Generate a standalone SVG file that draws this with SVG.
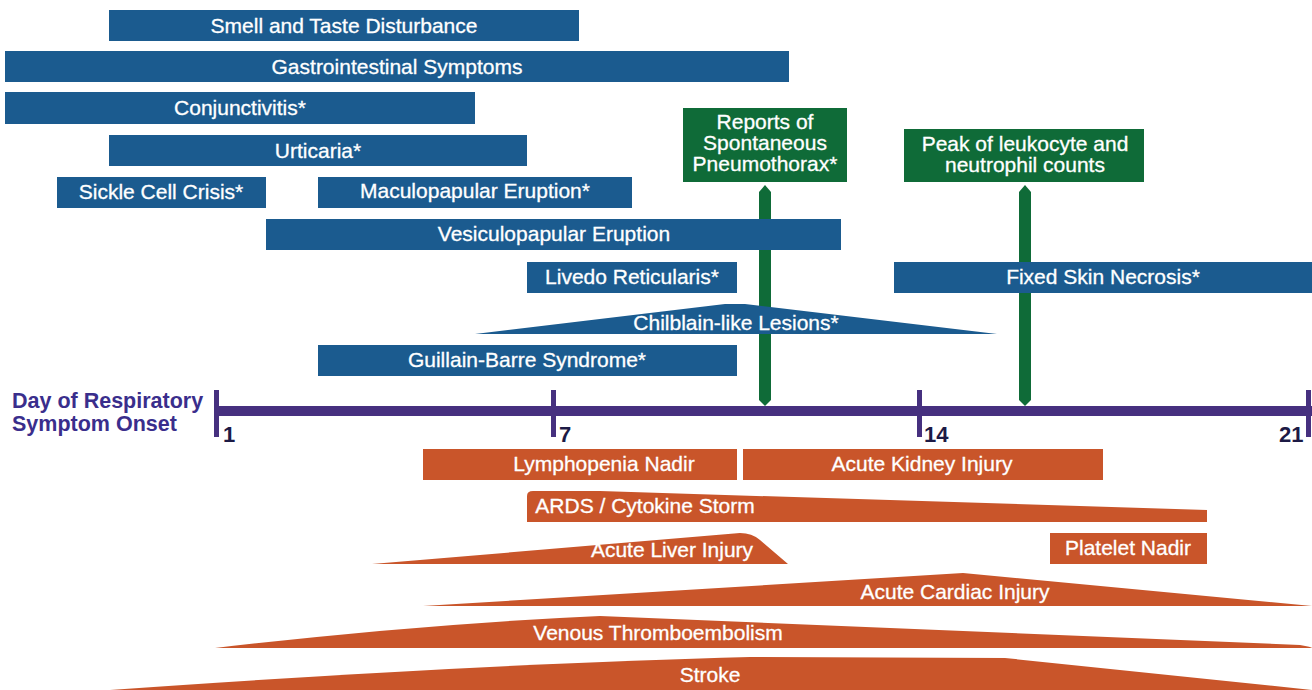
<svg xmlns="http://www.w3.org/2000/svg" width="1312" height="690" viewBox="0 0 1312 690">
<style>
.b{fill:#1b5b8f}
.o{fill:#c9552a}
.g{fill:#0f6b38}
.ax{fill:#46307f}
text{font-family:"Liberation Sans",Arial,sans-serif;font-size:21px;fill:#fff;stroke:#fff;stroke-width:0.3;text-anchor:middle}
.num{font-weight:bold;fill:#1c1a45;stroke:none;font-size:22px;text-anchor:start}
.ttl{font-weight:bold;fill:#3a2e8c;stroke:none;font-size:21.5px;text-anchor:start}
</style>
<rect width="1312" height="690" fill="#fff"/>
<g id="axis">
<rect class="ax" x="215" y="406" width="1097" height="10"/>
<rect class="ax" x="214" y="390" width="5" height="47"/>
<rect class="ax" x="551" y="390" width="5" height="47"/>
<rect class="ax" x="917" y="390" width="5" height="47"/>
<rect class="ax" x="1306" y="390" width="5" height="47"/>
<text class="num" x="223" y="442">1</text>
<text class="num" x="559" y="442">7</text>
<text class="num" x="924" y="442">14</text>
<text class="num" x="1279" y="442">21</text>
<text class="ttl" x="12" y="408">Day of Respiratory</text>
<text class="ttl" x="12" y="431">Symptom Onset</text>
</g>
<g id="connectors">
<path class="g" d="M759 192 L765 185 L771 192 L771 400 L765 406 L759 400 Z"/>
<path class="g" d="M1019 192 L1025 185 L1031 192 L1031 400 L1025 406 L1019 400 Z"/>
</g>
<g id="smell"><rect class="b" x="109" y="10" width="470" height="31"/><text x="344" y="33">Smell and Taste Disturbance</text></g>
<g id="gi"><rect class="b" x="5" y="51" width="784" height="31"/><text x="397" y="74">Gastrointestinal Symptoms</text></g>
<g id="conj"><rect class="b" x="5" y="92" width="470" height="32"/><text x="240" y="115">Conjunctivitis*</text></g>
<g id="urt"><rect class="b" x="109" y="135" width="418" height="31"/><text x="318" y="158">Urticaria*</text></g>
<g id="sickle"><rect class="b" x="57" y="177" width="209" height="31"/><text x="161" y="199">Sickle Cell Crisis*</text></g>
<g id="macu"><rect class="b" x="318" y="177" width="314" height="31"/><text x="475" y="198">Maculopapular Eruption*</text></g>
<g id="vesi"><rect class="b" x="266" y="219" width="575" height="31"/><text x="554" y="241">Vesiculopapular Eruption</text></g>
<g id="livedo"><rect class="b" x="527" y="262" width="210" height="31"/><text x="632" y="284">Livedo Reticularis*</text></g>
<g id="fixed"><rect class="b" x="894" y="262" width="418" height="31"/><text x="1103" y="284">Fixed Skin Necrosis*</text></g>
<g id="chil"><path class="b" d="M475 334 L725 304 L745 304 L997 334 Z"/><text x="736" y="330">Chilblain-like Lesions*</text></g>
<g id="gbs"><rect class="b" x="318" y="345" width="419" height="31"/><text x="527" y="367">Guillain-Barre Syndrome*</text></g>
<g id="pneumo"><rect class="g" x="683" y="108" width="164" height="74"/><text x="765" y="129">Reports of</text><text x="765" y="150">Spontaneous</text><text x="765" y="171">Pneumothorax*</text></g>
<g id="leuko"><rect class="g" x="904" y="129" width="240" height="53"/><text x="1025" y="151">Peak of leukocyte and</text><text x="1025" y="172">neutrophil counts</text></g>
<g id="lymph"><rect class="o" x="423" y="449" width="314" height="31"/><text x="604" y="471">Lymphopenia Nadir</text></g>
<g id="aki"><rect class="o" x="743" y="449" width="360" height="31"/><text x="922" y="471">Acute Kidney Injury</text></g>
<g id="ards"><path class="o" d="M527 522 L527 496 Q527 491 533 491 L600 491 L1207 510 L1207 522 Z"/><text x="645" y="513">ARDS / Cytokine Storm</text></g>
<g id="liver"><path class="o" d="M372 564 L740 533 Q752 533 760 540 L788 564 Z"/><text x="672" y="557">Acute Liver Injury</text></g>
<g id="platelet"><rect class="o" x="1050" y="533" width="157" height="31"/><text x="1128" y="555">Platelet Nadir</text></g>
<g id="cardiac"><path class="o" d="M423 606 L963 573 L1312 606 Z"/><text x="955" y="599">Acute Cardiac Injury</text></g>
<g id="vte"><path class="o" d="M215 648 Q420 624 600 616 L1300 645 Q1312 647 1312 648 Z"/><text x="658" y="640">Venous Thromboembolism</text></g>
<g id="stroke"><path class="o" d="M110 690 Q480 664 750 657 L1005 658 L1312 690 Z"/><text x="710" y="682">Stroke</text></g>
</svg>
